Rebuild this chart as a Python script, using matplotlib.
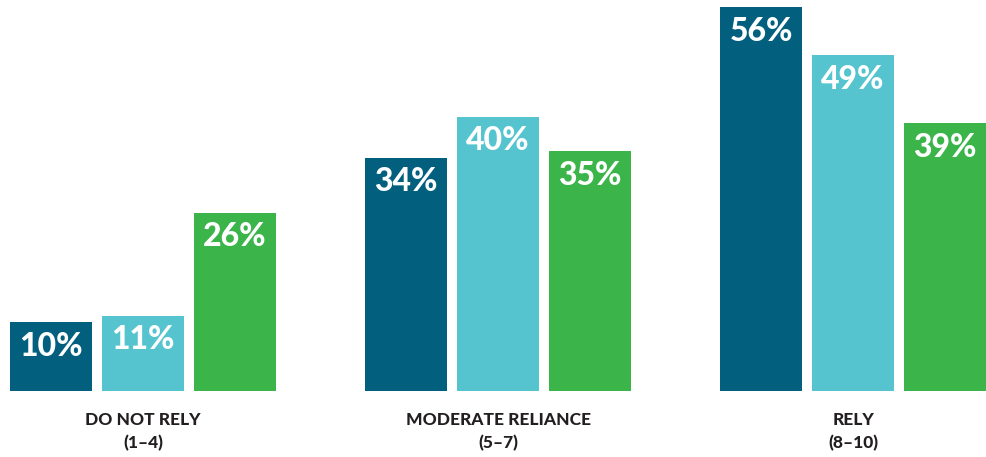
import matplotlib.pyplot as plt
import numpy as np

# Reliance groups and the three series shown in each group
CATEGORIES = ["DO NOT RELY\n(1\u20134)", "MODERATE RELIANCE\n(5\u20137)", "RELY\n(8\u201310)"]
SERIES_A = [10, 34, 56]
SERIES_B = [11, 40, 49]
SERIES_C = [26, 35, 39]

COLORS = ["#02607e", "#55c4cf", "#3bb54a"]
TEXT_COLOR = "#231f20"
BAR_STEP = 0.259
BAR_WIDTH = 0.231

plt.rcParams["font.family"] = ["Lato", "DejaVu Sans"]

fig = plt.figure(figsize=(9.87, 4.57), dpi=100)
ax = fig.add_axes([0, 0, 1, 1])
ax.set_xlim(-0.403, 2.377)
ax.set_ylim(-9.62, 57.0)
ax.axis("off")

x = np.arange(len(CATEGORIES))
for j, values in enumerate([SERIES_A, SERIES_B, SERIES_C]):
    pos = x + (j - 1) * BAR_STEP
    bars = ax.bar(pos, values, width=BAR_WIDTH, color=COLORS[j])
    for bar, v in zip(bars, values):
        ax.annotate("{}%".format(v),
                    xy=(bar.get_x() + bar.get_width() / 2, v),
                    xytext=(0, -7), textcoords="offset points",
                    ha="center", va="top", color="white",
                    fontsize=23, fontweight="black")

# Group labels under the bars
for xi, label in zip(x, CATEGORIES):
    ax.annotate(label, xy=(xi, 0), xytext=(0, -15), textcoords="offset points",
                ha="center", va="top", color=TEXT_COLOR,
                fontsize=12.5, fontweight="black", linespacing=1.5)

fig.savefig("out.png", dpi=100)
